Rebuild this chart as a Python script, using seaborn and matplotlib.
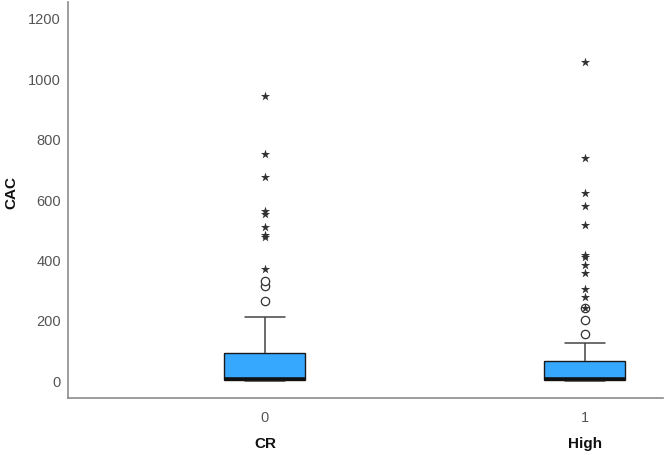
import matplotlib
matplotlib.use("Agg")
import matplotlib.pyplot as plt
import matplotlib.transforms as mtransforms
import seaborn as sns
import pandas as pd

# ---- data ----
groups = ["0", "1"]
group_titles = ["CR", "High"]
whisker_low = [0, 0]
q1 = [3, 3]
median = [6, 6]
q3 = [93, 66]
whisker_high = [212, 126]
mild_outliers_0 = [266, 316, 331]
extreme_outliers_0 = [372, 478, 484, 510, 553, 564, 677, 752, 945]
mild_outliers_1 = [158, 202, 241]
extreme_outliers_1 = [243, 279, 307, 357, 384, 412, 418, 519, 580, 624, 738, 1057]
yticks = [0, 200, 400, 600, 800, 1000, 1200]
y_label = "CAC"

# ---- tables ----
summary_rows = []
for g, lo, a, m, b, hi in zip(groups, whisker_low, q1, median, q3, whisker_high):
    for v in (lo, a, m, b, hi):
        summary_rows.append({"group": g, "value": v})
summary = pd.DataFrame(summary_rows)

mild = pd.DataFrame(
    [{"group": groups[0], "value": v} for v in mild_outliers_0]
    + [{"group": groups[1], "value": v} for v in mild_outliers_1]
)
extreme = pd.DataFrame(
    [{"group": groups[0], "value": v} for v in extreme_outliers_0]
    + [{"group": groups[1], "value": v} for v in extreme_outliers_1]
)

sns.set_style("white")
plt.rcParams["font.family"] = ["Liberation Sans", "DejaVu Sans"]

fig = plt.figure(figsize=(6.66, 4.55), dpi=100)
ax = fig.add_axes([0.102, 0.125, 0.8935, 0.8705])

sns.boxplot(
    data=summary, x="group", y="value", order=groups, ax=ax,
    width=0.253, whis=1.5, showfliers=False,
    boxprops=dict(facecolor="#36A9FF", edgecolor="#1a1a1a", linewidth=1.0),
    medianprops=dict(color="#111111", linewidth=2.6),
    whiskerprops=dict(color="#444444", linewidth=1.1),
    capprops=dict(color="#444444", linewidth=1.1),
)

sns.stripplot(data=mild, x="group", y="value", order=groups, ax=ax,
              jitter=False, marker="o", color="white", edgecolor="#333333",
              linewidth=0.9, size=6, zorder=5)
sns.stripplot(data=extreme, x="group", y="value", order=groups, ax=ax,
              jitter=False, marker="*", color="#333333", linewidth=0,
              size=7, zorder=6)

ax.set_xlim(-0.6156, 1.244)
ax.set_ylim(-56, 1256)
ax.set_yticks(yticks)
ax.set_yticklabels([str(t) for t in yticks])
ax.tick_params(axis="both", length=0, labelsize=10.5, labelcolor="#555555")
ax.tick_params(axis="x", pad=9)
ax.tick_params(axis="y", pad=5)
ax.set_xlabel("")
ax.set_ylabel(y_label, fontsize=11, fontweight="bold", color="#111111")
ax.yaxis.set_label_coords(-0.084, 0.518)

for s in ["top", "right"]:
    ax.spines[s].set_visible(False)
for s in ["left", "bottom"]:
    ax.spines[s].set_color("#8c8c8c")
    ax.spines[s].set_linewidth(1.2)

trans = mtransforms.blended_transform_factory(ax.transData, ax.transAxes)
for i, t in enumerate(group_titles):
    ax.text(i, -0.115, t, transform=trans, ha="center", va="center",
            fontsize=11, fontweight="bold", color="#111111")

fig.savefig("out.png", dpi=100)
